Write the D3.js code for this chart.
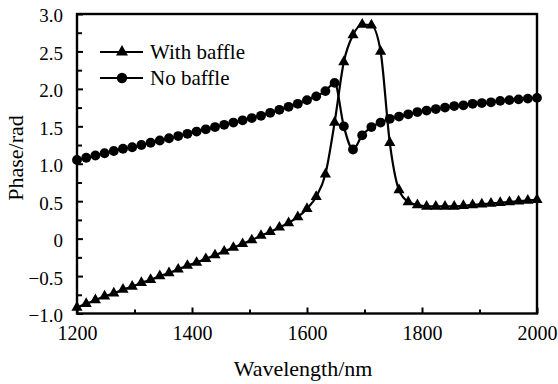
<!DOCTYPE html>
<html>
<head>
<meta charset="utf-8">
<script src="https://cdn.jsdelivr.net/npm/d3@7"></script>
<style>
  body { margin: 0; background: #fff; }
  svg { display: block; }
  svg text { font-family: 'Liberation Serif', 'Times New Roman', Times, serif; fill: #000; }
</style>
</head>
<body>
<div id="chart"></div>
<script>
// Sample wavelengths (nm)
var wavelengths = [
  1200, 1216, 1232, 1248, 1264, 1280, 1296, 1312, 1328, 1344,
  1360, 1376, 1392, 1408, 1424, 1440, 1456, 1472, 1488, 1504,
  1520, 1536, 1552, 1568, 1584, 1600, 1616, 1632, 1648, 1664,
  1680, 1696, 1712, 1728, 1744, 1760, 1776, 1792, 1808, 1824,
  1840, 1856, 1872, 1888, 1904, 1920, 1936, 1952, 1968, 1984, 2000
];

// Phase with baffle (rad)
var withBaffle = [
  -0.92, -0.87, -0.82, -0.77, -0.73, -0.68, -0.64, -0.59, -0.55, -0.50,
  -0.46, -0.41, -0.36, -0.32, -0.27, -0.22, -0.17, -0.12, -0.07, -0.02,
  0.04, 0.09, 0.15, 0.21, 0.29, 0.40, 0.56, 0.86, 1.55, 2.36,
  2.72, 2.86, 2.85, 2.50, 1.28, 0.65, 0.49, 0.45, 0.43, 0.43,
  0.43, 0.43, 0.44, 0.45, 0.46, 0.47, 0.48, 0.49, 0.50, 0.51, 0.52
];

// Phase without baffle (rad)
var noBaffle = [
  1.05, 1.08, 1.11, 1.14, 1.17, 1.20, 1.22, 1.25, 1.28, 1.31,
  1.34, 1.37, 1.40, 1.43, 1.46, 1.49, 1.52, 1.55, 1.58, 1.61,
  1.64, 1.68, 1.72, 1.76, 1.80, 1.85, 1.90, 1.97, 2.08, 1.50,
  1.19, 1.38, 1.49, 1.55, 1.60, 1.63, 1.66, 1.69, 1.71, 1.73,
  1.75, 1.77, 1.78, 1.80, 1.81, 1.82, 1.84, 1.85, 1.86, 1.87, 1.88
];

// Axis ticks
var xTicks = [1200, 1400, 1600, 1800, 2000];
var xMinorTicks = [1300, 1500, 1700, 1900];
var yTicks = [-1.0, -0.5, 0, 0.5, 1.0, 1.5, 2.0, 2.5, 3.0];
var yMinorTicks = [-0.75, -0.25, 0.25, 0.75, 1.25, 1.75, 2.25, 2.75];

var width = 558;
var height = 384;
var margin = { top: 14, right: 21, bottom: 70.5, left: 77 };
var serif = "'Liberation Serif', 'Times New Roman', Times, serif";

// Generate a translation transform
function translate(dx, dy) {
  return 'translate(' + dx + ',' + dy + ')';
}

var svg = d3.select('#chart').append('svg')
  .attr('width', width)
  .attr('height', height)
  .attr('font-family', serif);

var x = d3.scaleLinear()
  .domain([1200, 2000])
  .range([margin.left, width - margin.right]);
var y = d3.scaleLinear()
  .domain([-1, 3])
  .range([height - margin.bottom, margin.top]);

// Tick label format: 0 stays plain, negatives use a true minus
function formatY(d) {
  if (d === 0) return '0';
  return d3.format('.1f')(d).replace('-', '\u2212');
}

// Axes with inward ticks
var xAxis = svg.append('g')
  .attr('transform', translate(0, y(-1)))
  .call(d3.axisBottom(x).tickValues(xTicks).tickSizeInner(-6).tickSizeOuter(0).tickPadding(12).tickFormat(d3.format('d')));
svg.append('g')
  .attr('transform', translate(0, y(-1)))
  .call(d3.axisBottom(x).tickValues(xMinorTicks).tickSizeInner(-4).tickSizeOuter(0).tickFormat(''));
var yAxis = svg.append('g')
  .attr('transform', translate(x(1200), 0))
  .call(d3.axisLeft(y).tickValues(yTicks).tickSizeInner(-6).tickSizeOuter(0).tickPadding(14).tickFormat(formatY));
svg.append('g')
  .attr('transform', translate(x(1200), 0))
  .call(d3.axisLeft(y).tickValues(yMinorTicks).tickSizeInner(-5).tickSizeOuter(0).tickFormat(''));

svg.selectAll('.domain').remove();
svg.selectAll('.tick line').attr('stroke', '#000').attr('stroke-width', 2);
svg.selectAll('g').attr('font-family', serif);
xAxis.selectAll('text').attr('font-size', 20);
yAxis.selectAll('text').attr('font-size', 19).attr('dy', '0.42em');

// Frame
svg.append('rect')
  .attr('x', x(1200))
  .attr('y', y(3))
  .attr('width', x(2000) - x(1200))
  .attr('height', y(-1) - y(3))
  .attr('fill', 'none')
  .attr('stroke', '#000')
  .attr('stroke-width', 2.4);

// Series
var series = [
  { name: 'With baffle', values: withBaffle, symbol: d3.symbolTriangle, size: 54 },
  { name: 'No baffle', values: noBaffle, symbol: d3.symbolCircle, size: 76 }
];

var line = d3.line()
  .x(function (d) { return x(d[0]); })
  .y(function (d) { return y(d[1]); })
  .curve(d3.curveMonotoneX);

series.forEach(function (s) {
  var points = wavelengths.map(function (w, i) { return [w, s.values[i]]; });
  var g = svg.append('g');
  g.append('path')
    .datum(points)
    .attr('d', line)
    .attr('fill', 'none')
    .attr('stroke', '#000')
    .attr('stroke-width', 2.2);
  g.selectAll('path.marker')
    .data(points)
    .enter().append('path')
    .attr('class', 'marker')
    .attr('transform', function (d) { return translate(x(d[0]), y(d[1])); })
    .attr('d', d3.symbol().type(s.symbol).size(s.size))
    .attr('fill', '#000');
});

// Legend
var legend = svg.append('g');
series.forEach(function (s, i) {
  var ly = 52 + i * 26;
  legend.append('line')
    .attr('x1', 100).attr('x2', 143)
    .attr('y1', ly).attr('y2', ly)
    .attr('stroke', '#000').attr('stroke-width', 2);
  legend.append('path')
    .attr('transform', translate(122, ly))
    .attr('d', d3.symbol().type(s.symbol).size(s.size + 8))
    .attr('fill', '#000');
  legend.append('text')
    .attr('x', 150)
    .attr('y', ly + 7)
    .attr('font-size', 21)
    .text(s.name);
});

// Axis titles
svg.append('text')
  .attr('x', 303)
  .attr('y', 376)
  .attr('text-anchor', 'middle')
  .attr('font-size', 22)
  .text('Wavelength/nm');

svg.append('text')
  .attr('transform', translate(23, 158) + ' rotate(-90)')
  .attr('text-anchor', 'middle')
  .attr('font-size', 22)
  .text('Phase/rad');
</script>
</body>
</html>
